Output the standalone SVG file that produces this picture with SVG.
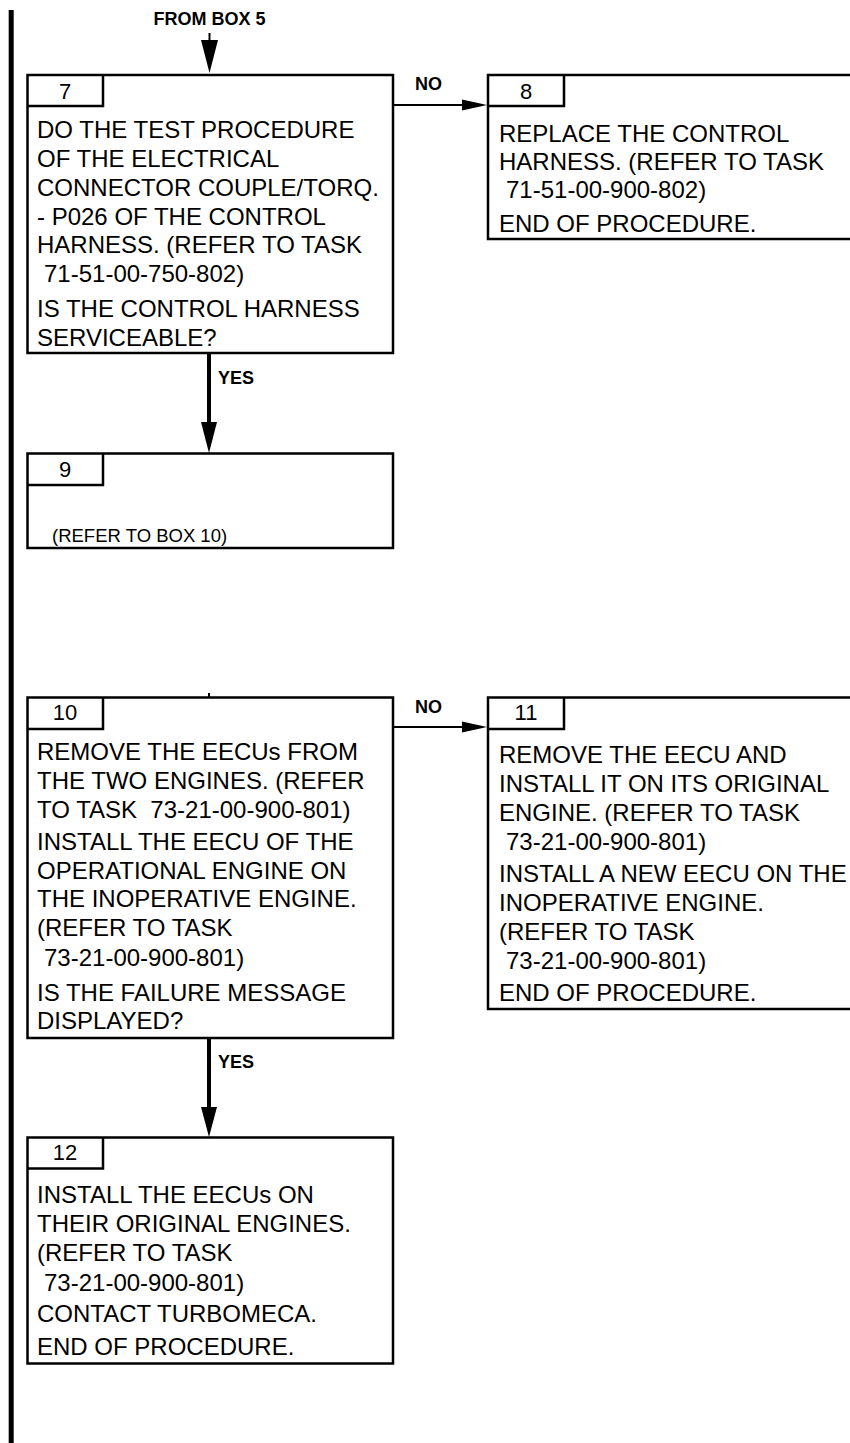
<svg xmlns="http://www.w3.org/2000/svg" width="850" height="1443" viewBox="0 0 850 1443">
<style>
.box{fill:#fff;stroke:#000;stroke-width:2.5}
.tab{fill:none;stroke:#000;stroke-width:2.5}
.t{font-family:"Liberation Sans",Arial,sans-serif;font-size:24px;fill:#000}
.n{font-family:"Liberation Sans",Arial,sans-serif;font-size:22px;fill:#000;text-anchor:middle}
.s{font-family:"Liberation Sans",Arial,sans-serif;font-size:18.5px;fill:#000}
.b{font-family:"Liberation Sans",Arial,sans-serif;font-size:18px;font-weight:bold;fill:#000}
.thin{stroke:#000;stroke-width:2;fill:none}
.thick{stroke:#000;stroke-width:4;fill:none}
.head{fill:#000}
</style>
<rect x="8.7" y="10" width="5" height="1433" fill="#000"/>

<g id="connectors">
<line class="thin" x1="209.5" y1="33" x2="209.5" y2="42"/>
<polygon class="head" points="201,40 218,40 209.5,73"/>
<text class="b" x="209.5" y="25" text-anchor="middle">FROM BOX 5</text>

<line class="thin" x1="393" y1="105" x2="463" y2="105"/>
<polygon class="head" points="462,99.5 462,110.5 487,105"/>
<text class="b" x="415" y="90">NO</text>

<line class="thick" x1="209" y1="353" x2="209" y2="424"/>
<polygon class="head" points="201,422 217,422 209,453"/>
<text class="b" x="218" y="384">YES</text>

<line class="thin" x1="209" y1="693" x2="209" y2="697"/>

<line class="thin" x1="393" y1="727" x2="463" y2="727"/>
<polygon class="head" points="462,721.5 462,732.5 487,727"/>
<text class="b" x="415" y="713">NO</text>

<line class="thick" x1="209" y1="1038" x2="209" y2="1109"/>
<polygon class="head" points="201,1107 217,1107 209,1137"/>
<text class="b" x="218" y="1068">YES</text>
</g>

<g id="box7">
<rect class="box" x="27.5" y="75" width="365.5" height="278"/>
<polyline class="tab" points="27.5,106 103,106 103,75"/>
<text class="n" x="65" y="99">7</text>
<text class="t" x="37" y="138">DO THE TEST PROCEDURE</text>
<text class="t" x="37" y="167">OF THE ELECTRICAL</text>
<text class="t" x="37" y="196">CONNECTOR COUPLE/TORQ.</text>
<text class="t" x="37" y="225">- P026 OF THE CONTROL</text>
<text class="t" x="37" y="253">HARNESS. (REFER TO TASK</text>
<text class="t" x="44" y="282">71-51-00-750-802)</text>
<text class="t" x="37" y="317">IS THE CONTROL HARNESS</text>
<text class="t" x="37" y="346">SERVICEABLE?</text>
</g>

<g id="box8">
<rect class="box" x="488" y="75" width="380" height="164"/>
<polyline class="tab" points="488,106 564,106 564,75"/>
<text class="n" x="526" y="98.5">8</text>
<text class="t" x="499" y="142">REPLACE THE CONTROL</text>
<text class="t" x="499" y="170">HARNESS. (REFER TO TASK</text>
<text class="t" x="506" y="198">71-51-00-900-802)</text>
<text class="t" x="499" y="232">END OF PROCEDURE.</text>
</g>

<g id="box9">
<rect class="box" x="27.5" y="453.5" width="365.5" height="94.5"/>
<polyline class="tab" points="27.5,485 103,485 103,453.5"/>
<text class="n" x="65" y="477">9</text>
<text class="s" x="52" y="542">(REFER TO BOX 10)</text>
</g>

<g id="box10">
<rect class="box" x="27.5" y="697.5" width="365.5" height="340.5"/>
<polyline class="tab" points="27.5,729 103,729 103,697.5"/>
<text class="n" x="65" y="720">10</text>
<text class="t" x="37" y="760">REMOVE THE EECUs FROM</text>
<text class="t" x="37" y="789">THE TWO ENGINES. (REFER</text>
<text class="t" x="37" y="818" xml:space="preserve">TO TASK  73-21-00-900-801)</text>
<text class="t" x="37" y="850">INSTALL THE EECU OF THE</text>
<text class="t" x="37" y="879">OPERATIONAL ENGINE ON</text>
<text class="t" x="37" y="907">THE INOPERATIVE ENGINE.</text>
<text class="t" x="37" y="936">(REFER TO TASK</text>
<text class="t" x="44" y="966">73-21-00-900-801)</text>
<text class="t" x="37" y="1001">IS THE FAILURE MESSAGE</text>
<text class="t" x="37" y="1029">DISPLAYED?</text>
</g>

<g id="box11">
<rect class="box" x="488" y="697.5" width="380" height="311.5"/>
<polyline class="tab" points="488,729 564,729 564,697.5"/>
<text class="n" x="526" y="720">11</text>
<text class="t" x="499" y="763">REMOVE THE EECU AND</text>
<text class="t" x="499" y="792">INSTALL IT ON ITS ORIGINAL</text>
<text class="t" x="499" y="821">ENGINE. (REFER TO TASK</text>
<text class="t" x="506" y="850">73-21-00-900-801)</text>
<text class="t" x="499" y="882">INSTALL A NEW EECU ON THE</text>
<text class="t" x="499" y="911">INOPERATIVE ENGINE.</text>
<text class="t" x="499" y="940">(REFER TO TASK</text>
<text class="t" x="506" y="969">73-21-00-900-801)</text>
<text class="t" x="499" y="1001">END OF PROCEDURE.</text>
</g>

<g id="box12">
<rect class="box" x="27.5" y="1137.5" width="365.5" height="226"/>
<polyline class="tab" points="27.5,1168.5 103,1168.5 103,1137.5"/>
<text class="n" x="65" y="1160">12</text>
<text class="t" x="37" y="1203">INSTALL THE EECUs ON</text>
<text class="t" x="37" y="1232">THEIR ORIGINAL ENGINES.</text>
<text class="t" x="37" y="1261">(REFER TO TASK</text>
<text class="t" x="44" y="1291">73-21-00-900-801)</text>
<text class="t" x="37" y="1322">CONTACT TURBOMECA.</text>
<text class="t" x="37" y="1355">END OF PROCEDURE.</text>
</g>
</svg>
